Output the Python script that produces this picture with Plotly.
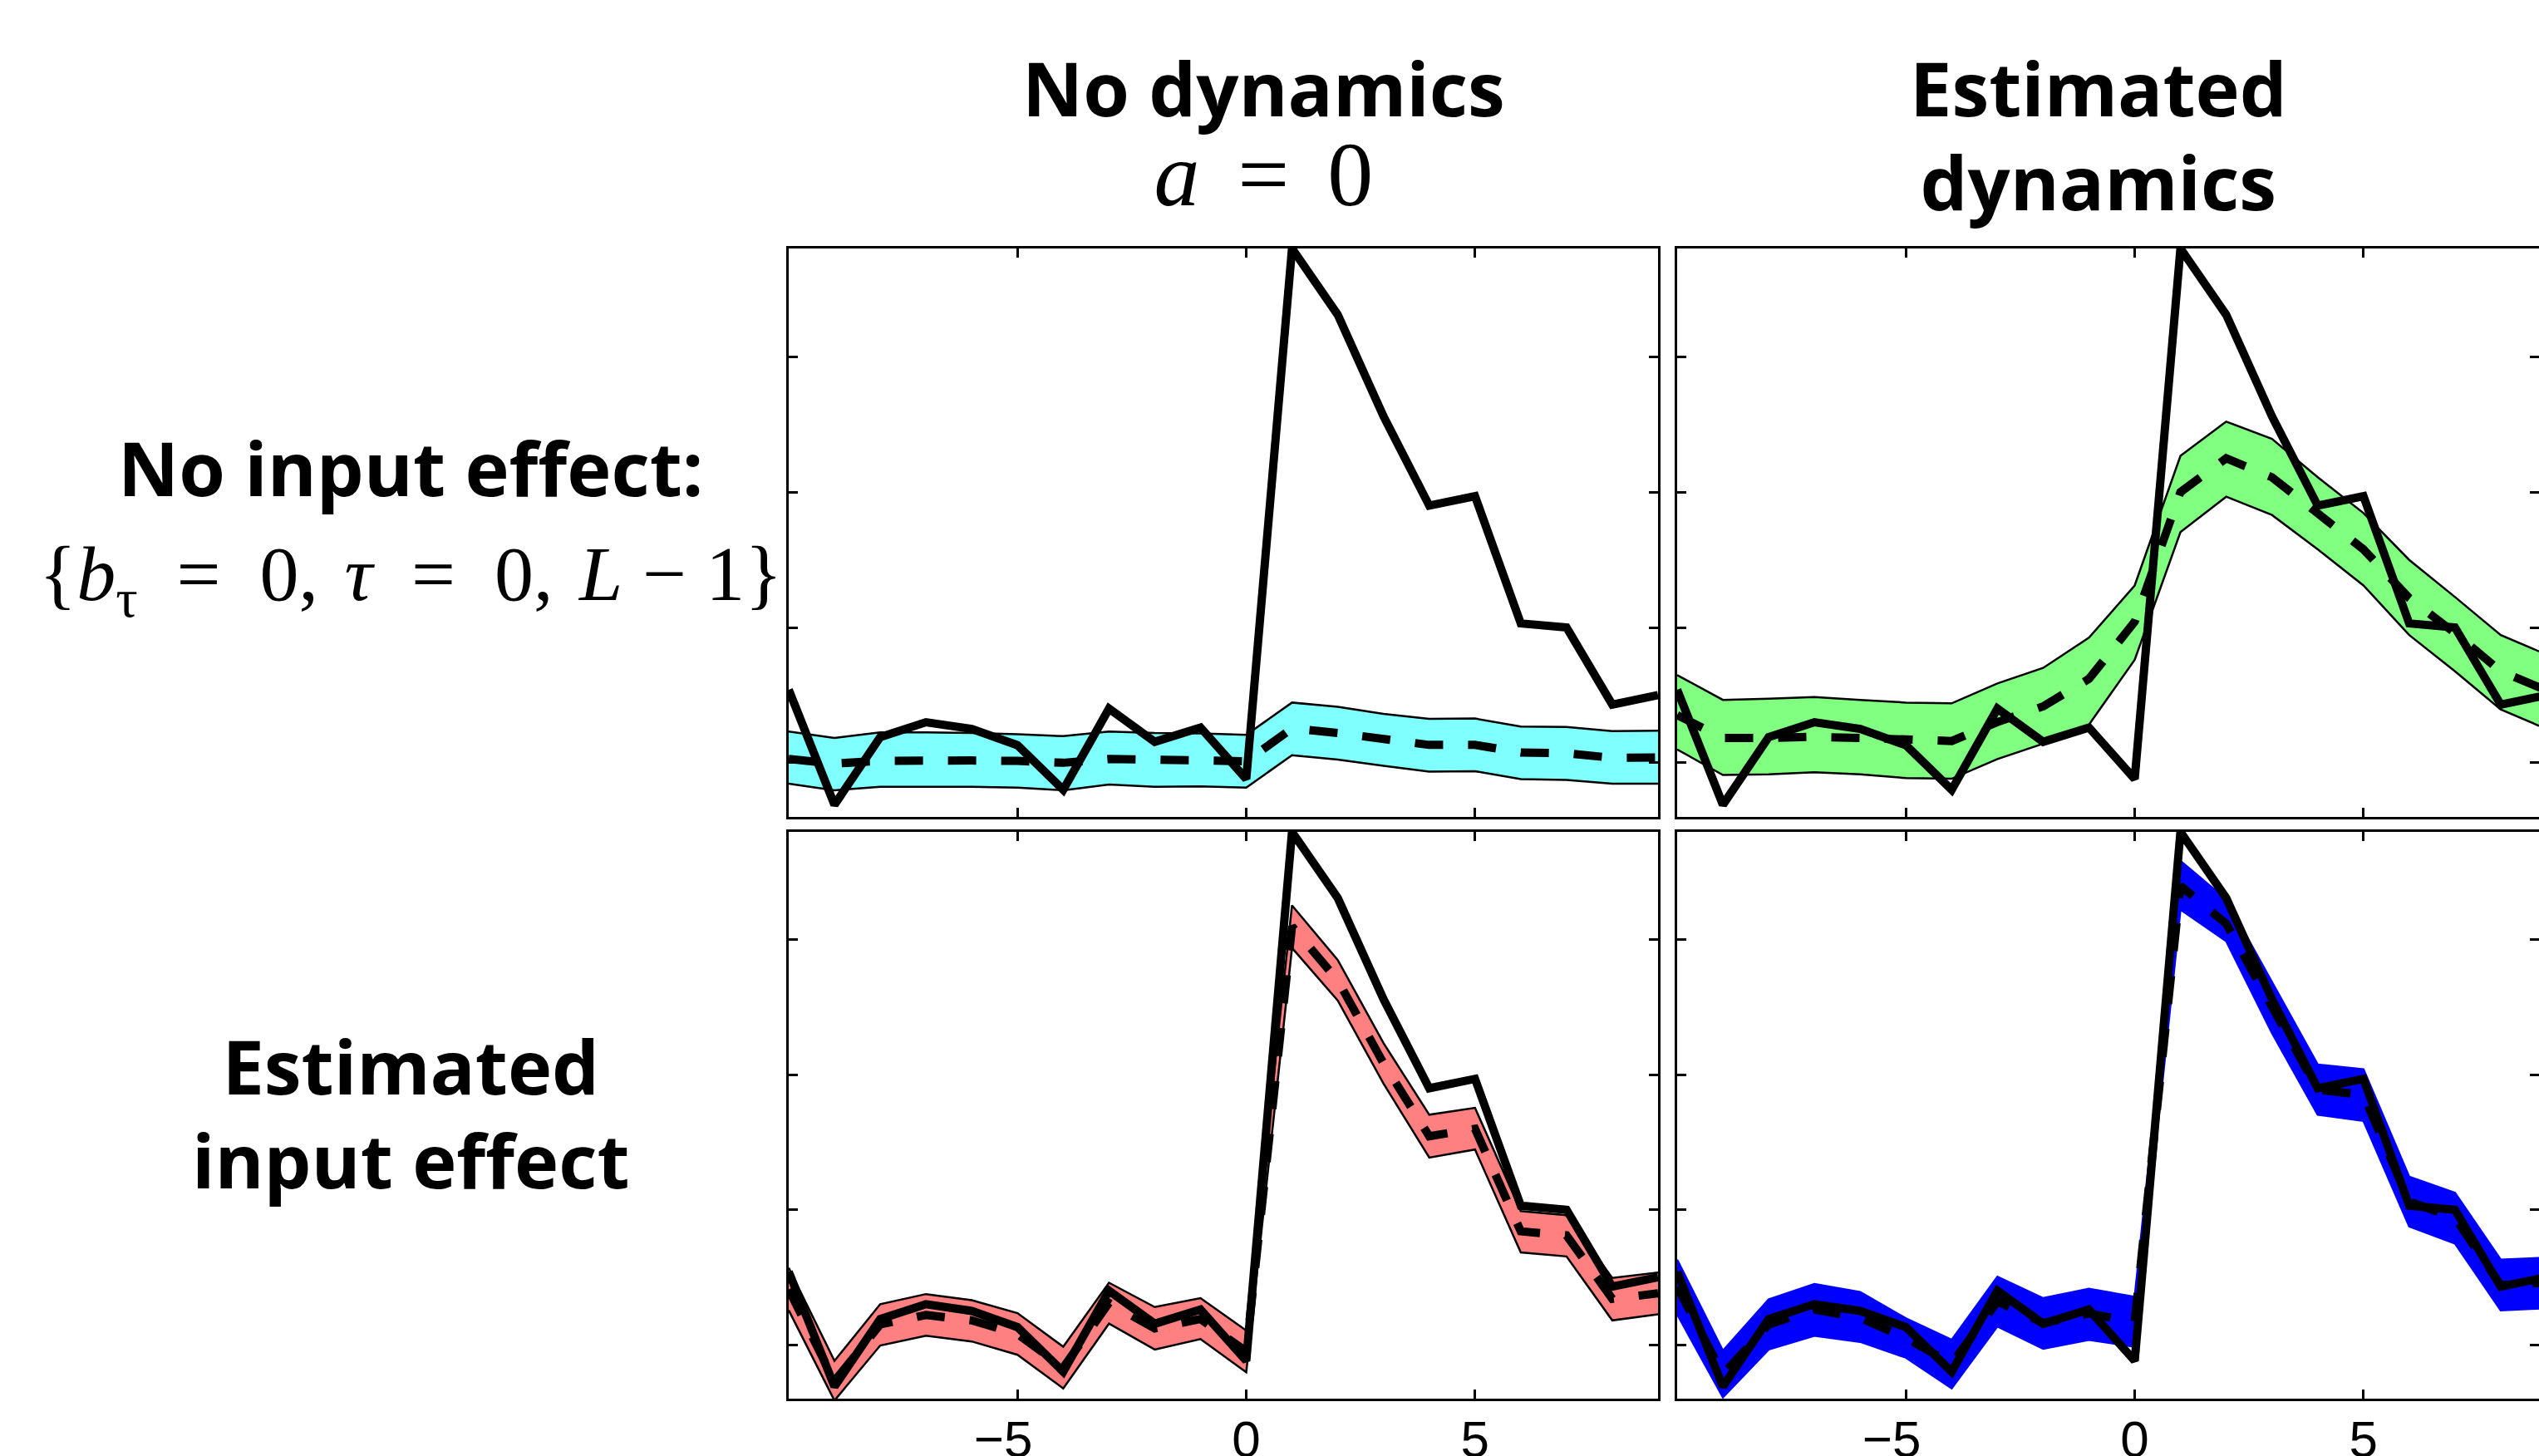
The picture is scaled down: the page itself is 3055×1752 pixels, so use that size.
import plotly.graph_objects as go

# ---------------- data ----------------
lags = list(range(-10, 10))

observed = [0.54, -0.31, 0.19, 0.30, 0.25, 0.13, -0.20, 0.40, 0.155, 0.26,
            -0.12, 3.80, 3.31, 2.56, 1.90, 1.97, 1.03, 1.00, 0.43, 0.50]

# No input effect, no dynamics (cyan)
cyan_mean = [0.028, -0.006, 0.014, 0.020, 0.017, 0.014, 0.0, 0.028, 0.017, 0.017,
             0.011, 0.254, 0.220, 0.169, 0.132, 0.132, 0.076, 0.070, 0.037, 0.039]
cyan_upper = [0.231, 0.183, 0.225, 0.225, 0.220, 0.211, 0.197, 0.231, 0.220, 0.217,
              0.206, 0.445, 0.414, 0.361, 0.324, 0.327, 0.268, 0.265, 0.234, 0.237]
cyan_lower = [-0.155, -0.203, -0.177, -0.175, -0.177, -0.183, -0.203, -0.161, -0.177, -0.175,
              -0.183, 0.056, 0.023, -0.023, -0.065, -0.062, -0.121, -0.127, -0.155, -0.155]

# No input effect, estimated dynamics (green)
green_mean = [0.352, 0.183, 0.183, 0.192, 0.183, 0.169, 0.161, 0.301, 0.417, 0.620,
              1.042, 2.00, 2.25, 2.11, 1.845, 1.577, 1.217, 0.958, 0.676, 0.535]
green_upper = [0.648, 0.465, 0.473, 0.485, 0.465, 0.445, 0.439, 0.586, 0.701, 0.924,
               1.31, 2.268, 2.521, 2.394, 2.11, 1.845, 1.499, 1.225, 0.944, 0.80]
green_lower = [0.099, -0.090, -0.085, -0.070, -0.085, -0.113, -0.118, 0.028, 0.141, 0.282,
               0.761, 1.704, 1.966, 1.831, 1.577, 1.31, 0.944, 0.676, 0.394, 0.25]

# Estimated input effect, no dynamics (red)
red_mean = [0.41, -0.27, 0.15, 0.22, 0.18, 0.08, -0.17, 0.31, 0.12, 0.19,
            -0.05, 3.10, 2.70, 2.085, 1.545, 1.60, 0.84, 0.81, 0.34, 0.38]
red_upper = [0.570, -0.120, 0.300, 0.375, 0.330, 0.234, -0.015, 0.459, 0.279, 0.345,
             0.105, 3.255, 2.850, 2.235, 1.704, 1.755, 0.990, 0.960, 0.495, 0.534]
red_lower = [0.255, -0.414, -0.006, 0.066, 0.024, -0.075, -0.324, 0.156, -0.036, 0.042,
             -0.204, 2.94, 2.55, 1.935, 1.386, 1.446, 0.684, 0.654, 0.18, 0.225]

# Estimated input effect, estimated dynamics (blue)
blue_mean = [0.43, -0.22, 0.15, 0.26, 0.20, 0.05, -0.14, 0.32, 0.16, 0.23,
             0.17, 3.40, 3.12, 2.50, 1.89, 1.85, 1.06, 0.94, 0.44, 0.46]
blue_upper = [0.630, -0.045, 0.336, 0.450, 0.390, 0.195, 0.036, 0.504, 0.345, 0.414,
              0.354, 3.585, 3.30, 2.685, 2.076, 2.04, 1.245, 1.125, 0.630, 0.645]
blue_lower = [0.225, -0.39, -0.036, 0.066, 0.021, -0.096, -0.324, 0.135, -0.03, 0.036,
              -0.015, 3.225, 2.99, 2.31, 1.704, 1.659, 0.876, 0.75, 0.255, 0.27]

x_ticks = [-5, 0, 5]
x_tick_labels = ["\u22125\u2007", "0", "5"]
y_ticks = [0, 1, 2, 3]
col_titles = ["No dynamics", "Estimated<br>dynamics"]
col_math = "<i>a</i>\u2004\u200a=\u2004\u200a0"
row_titles = ["No input effect:", "Estimated<br>input effect"]
row_math = ("{<i>b</i><sub>τ</sub>\u2002=\u20020,\u2004<i>τ</i>\u2002=\u20020,"
            "\u2004<i>L</i>\u2005\u2212\u20051}")

# ---------------- figure ----------------
W, H = 3055, 1752
fig = go.Figure()

panels = [
    # (xaxis, yaxis, mean, upper, lower, fill color, edge color)
    ("x", "y", cyan_mean, cyan_upper, cyan_lower, "#80FFFF", "black"),
    ("x2", "y2", green_mean, green_upper, green_lower, "#80FF80", "black"),
    ("x3", "y3", red_mean, red_upper, red_lower, "#FF8080", "black"),
    ("x4", "y4", blue_mean, blue_upper, blue_lower, "#0000FF", "#0000FF"),
]

for xa, ya, mean, up, lo, fc, ec in panels:
    fig.add_trace(go.Scatter(x=lags + lags[::-1], y=up + lo[::-1], xaxis=xa, yaxis=ya,
                             fill="toself", fillcolor=fc, mode="lines",
                             line=dict(width=0, color=fc), hoverinfo="skip"))
    for edge in (up, lo):
        fig.add_trace(go.Scatter(x=lags, y=edge, xaxis=xa, yaxis=ya, mode="lines",
                                 line=dict(width=2.5, color=ec)))
    fig.add_trace(go.Scatter(x=lags, y=mean, xaxis=xa, yaxis=ya, mode="lines",
                             line=dict(width=10, color="black", dash="34px,30px")))
    fig.add_trace(go.Scatter(x=lags, y=observed, xaxis=xa, yaxis=ya, mode="lines",
                             line=dict(width=10, color="black")))

# panel geometry in pixels
left_col = (949, 1995)
right_col = (2018, 3064)
top_row = (299, 983)
bot_row = (1001, 1683)
unit_px = (left_col[1] - left_col[0]) / 19.0
right_xmax = -10 + (W - right_col[0]) / unit_px


def xdom(c):
    return [c[0] / W, min(c[1], W) / W]


def ydom(r):
    return [1 - r[1] / H, 1 - r[0] / H]


axis_common = dict(showgrid=False, zeroline=False, showline=True, linewidth=3,
                   linecolor="black", mirror="ticks", ticks="inside", ticklen=11,
                   tickwidth=2.5, tickcolor="black", automargin=False,
                   tickfont=dict(family="Liberation Sans, Arial", size=62, color="black"))

layout_axes = {}
specs = [
    ("xaxis", "yaxis", "x", "y", left_col, top_row, False, [-10, 9]),
    ("xaxis2", "yaxis2", "x2", "y2", right_col, top_row, False, [-10, right_xmax]),
    ("xaxis3", "yaxis3", "x3", "y3", left_col, bot_row, True, [-10, 9]),
    ("xaxis4", "yaxis4", "x4", "y4", right_col, bot_row, True, [-10, right_xmax]),
]
for xk, yk, xa, ya, col, row, labels, xr in specs:
    layout_axes[xk] = dict(axis_common, domain=xdom(col), anchor=ya, range=xr,
                           tickmode="array", tickvals=x_ticks, ticktext=x_tick_labels,
                           showticklabels=labels, ticklabelstandoff=-7)
    layout_axes[yk] = dict(axis_common, domain=ydom(row), anchor=xa, range=[-0.40, 3.80],
                           tickmode="array", tickvals=y_ticks, showticklabels=False)

fig.update_layout(template="none", width=W, height=H, autosize=False,
                  margin=dict(l=0, r=0, t=0, b=0, autoexpand=False),
                  paper_bgcolor="white", plot_bgcolor="white", showlegend=False,
                  **layout_axes)

SANS = "Open Sans"
SERIF = "Liberation Serif"
OPEN_ASC = 1.069


def bold(t, size=90):
    return "<span style='font-family:%s;font-size:%dpx'><b>%s</b></span>" % (SANS, size, t)


def math(t, size):
    return "<span style='font-family:%s;font-size:%dpx'>%s</span>" % (SERIF, size, t)


def add_block(text, cx, first_baseline, line_gap, family):
    # base font size sets the line spacing (1.3 em per line)
    base = line_gap / 1.3
    top = first_baseline - OPEN_ASC * 90
    fig.add_annotation(x=cx / W, y=1 - top / H, xref="paper", yref="paper",
                       text=text, showarrow=False, xanchor="center", yanchor="top",
                       borderpad=0, align="center",
                       font=dict(family=family, size=base, color="black"))


# column titles
add_block(bold(col_titles[0]) + "<br>" + math(col_math, 110), 1520, 139, 107, SANS)
add_block(bold(col_titles[1].split("<br>")[0]) + "<br>" + bold(col_titles[1].split("<br>")[1]),
          2525, 139, 113, SANS)

# row titles
add_block(bold(row_titles[0]) + "<br>" + math(row_math, 94), 494, 596, 125, SANS)
add_block(bold(row_titles[1].split("<br>")[0]) + "<br>" + bold(row_titles[1].split("<br>")[1]),
          494, 1316, 113, SANS)

fig.write_html("out.html", config={"displayModeBar": False},
               post_script="document.body.style.margin='0px';"
                           "document.body.style.overflow='hidden';")
